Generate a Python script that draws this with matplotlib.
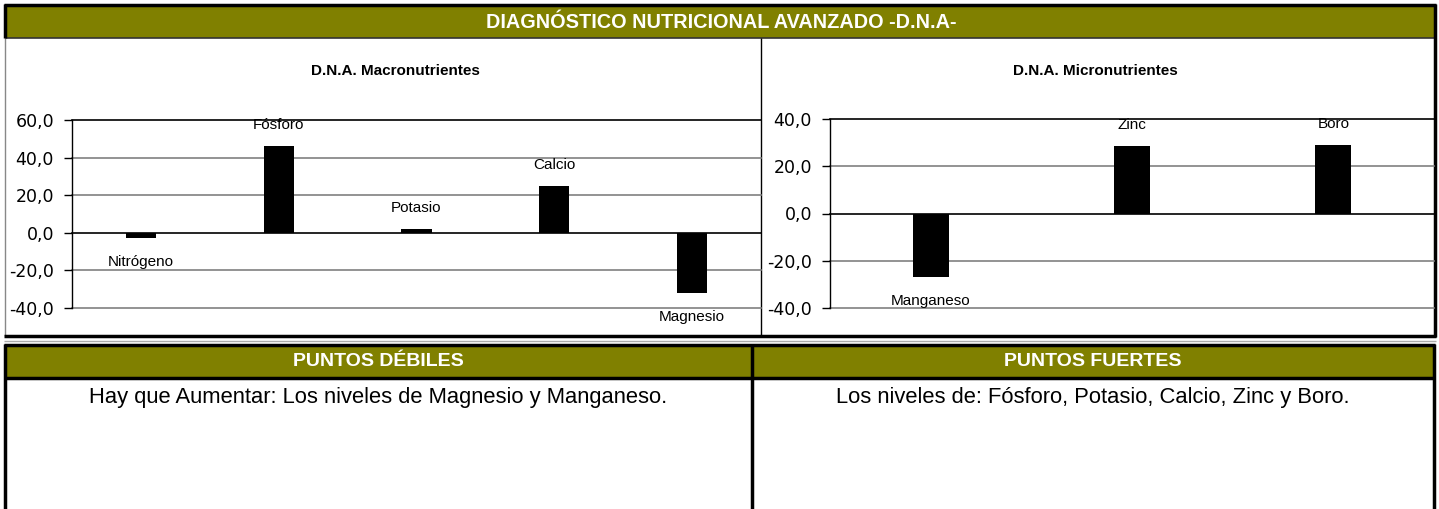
import matplotlib
matplotlib.use("Agg")
import matplotlib.pyplot as plt
from matplotlib.patches import Rectangle

W, H = 1439, 509
OLIVE = "#808000"
NARROW = ["Liberation Sans Narrow", "Liberation Sans", "DejaVu Sans"]

# data
macro_names = ["Nitrógeno", "Fósforo", "Potasio", "Calcio", "Magnesio"]
macro_values = [-3.0, 46.0, 2.0, 25.0, -32.0]
macro_ticks = [-40, -20, 0, 20, 40, 60]

micro_names = ["Manganeso", "Zinc", "Boro"]
micro_values = [-27.0, 28.5, 29.0]
micro_ticks = [-40, -20, 0, 20, 40]

title = "DIAGNÓSTICO NUTRICIONAL AVANZADO -D.N.A-"
weak_title = "PUNTOS DÉBILES"
strong_title = "PUNTOS FUERTES"
weak_text = "Hay que Aumentar: Los niveles de Magnesio y Manganeso."
strong_text = "Los niveles de: Fósforo, Potasio, Calcio, Zinc y Boro."

fig = plt.figure(figsize=(W / 100, H / 100), dpi=100)

# background layer in pixel coordinates
bg = fig.add_axes([0, 0, 1, 1])
bg.set_xlim(0, W)
bg.set_ylim(H, 0)
bg.axis("off")


def box(x0, y0, x1, y1, **kw):
    bg.add_patch(Rectangle((x0, y0), x1 - x0, y1 - y0, **kw))


def line(xs, ys, **kw):
    bg.plot(xs, ys, solid_capstyle="butt", **kw)


# top section
box(5, 5, 1435, 38, facecolor=OLIVE, edgecolor="none")
line([5, 1435], [38, 38], color="#333333", lw=1.2)
line([4.5, 4.5], [38, 336], color="#888888", lw=1)
line([5, 5], [4, 38], color="black", lw=2.5)
line([4, 1436], [5, 5], color="black", lw=2.5)
line([1435, 1435], [4, 337], color="black", lw=2.5)
line([4, 1436], [336, 336], color="black", lw=2.5)
line([761, 761], [38, 336], color="black", lw=1)
line([4, 1436], [341, 341], color="#aaaaaa", lw=1)
bg.text(721, 22, title, ha="center", va="center", color="white",
        fontsize=14.3, fontweight="bold", family=NARROW)
bg.text(395, 71, "D.N.A. Macronutrientes", ha="center", va="center",
        fontsize=11, fontweight="bold", family=NARROW)
bg.text(1095, 71, "D.N.A. Micronutrientes", ha="center", va="center",
        fontsize=11, fontweight="bold", family=NARROW)

# bottom section
box(5, 345, 1434, 378, facecolor=OLIVE, edgecolor="none")
line([4, 1435], [345, 345], color="black", lw=2.5)
line([4, 1435], [378, 378], color="black", lw=2.5)
line([5, 5], [344, H], color="black", lw=2.5)
line([752, 752], [344, H], color="black", lw=2.5)
line([1434, 1434], [344, H], color="black", lw=2.5)
bg.text(378, 362, weak_title, ha="center", va="center", color="white",
        fontsize=14, fontweight="bold", family=NARROW)
bg.text(1093, 362, strong_title, ha="center", va="center", color="white",
        fontsize=14, fontweight="bold", family=NARROW)
bg.text(378, 397, weak_text, ha="center", va="center",
        fontsize=15.8, family=NARROW)
bg.text(1093, 397, strong_text, ha="center", va="center",
        fontsize=15.8, family=NARROW)


def px_axes(x0, y0, x1, y1):
    return fig.add_axes([x0 / W, 1 - y1 / H, (x1 - x0) / W, (y1 - y0) / H])


def bar_chart(ax, names, values, ticks, width):
    x = range(len(names))
    ax.bar(x, values, width=width, color="black", zorder=3)
    ax.set_xlim(-0.5, len(names) - 0.5)
    ax.set_ylim(ticks[0], ticks[-1])
    ax.set_yticks(ticks)
    ax.set_yticklabels([f"{t:.1f}".replace(".", ",") for t in ticks])
    ax.set_xticks([])
    ax.patch.set_alpha(0)
    for s in ["right", "bottom", "top"]:
        ax.spines[s].set_visible(False)
    ax.spines["left"].set_linewidth(1)
    ax.tick_params(axis="y", length=6, width=1, pad=7, labelsize=12.5)
    for t in ticks:
        c = "black" if t in (0, ticks[-1]) else "#808080"
        ax.axhline(t, color=c, lw=1.2, zorder=1, clip_on=False)
    for i, (n, v) in enumerate(zip(names, values)):
        off = 15 if v >= 0 else -17
        ax.annotate(n, (i, v), xytext=(0, off), textcoords="offset points",
                    ha="center", va="center", fontsize=11, family=NARROW,
                    annotation_clip=False)


ax1 = px_axes(72, 120, 761, 308)
bar_chart(ax1, macro_names, macro_values, macro_ticks, 0.22)

ax2 = px_axes(830, 119, 1434, 308)
bar_chart(ax2, micro_names, micro_values, micro_ticks, 0.18)

fig.savefig("out.png", dpi=100)
